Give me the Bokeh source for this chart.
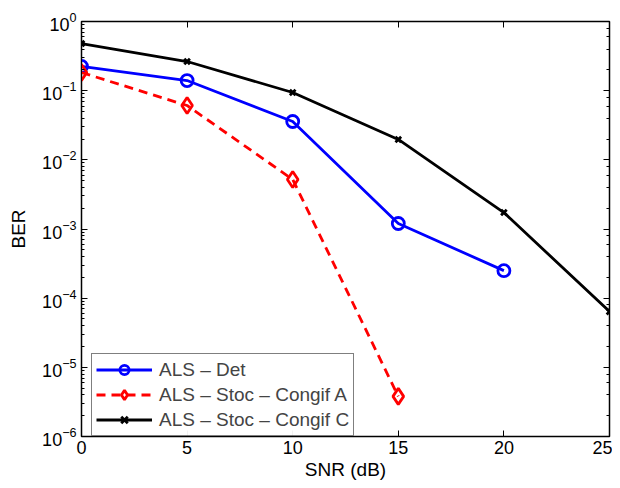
from bokeh.plotting import figure
from bokeh.models import LogAxis, LinearAxis, Legend, LegendItem, FixedTicker, Range1d, CustomJSTickFormatter
from bokeh.embed import file_html
from bokeh.resources import INLINE

snr_det = [0, 5, 10, 15, 20]
ber_det = [0.224, 0.14, 0.0358, 0.0012, 2.5e-4]
snr_a = [0, 5, 10, 15]
ber_a = [0.183, 0.061, 0.0052, 3.8e-6]
snr_c = [0, 5, 10, 15, 20, 25]
ber_c = [0.48, 0.264, 0.094, 0.0197, 0.00173, 6.4e-5]
x_ticks = [0, 5, 10, 15, 20, 25]

FONT = "Liberation Sans"
FS = "18px"
FL = "19px"

p = figure(frame_width=528, frame_height=415, y_axis_type="log",
           x_range=Range1d(0, 25), y_range=Range1d(1e-6, 1),
           output_backend="svg", toolbar_location=None,
           min_border_left=81, min_border_right=3, min_border_top=21, min_border_bottom=48)
p.xgrid.visible = False
p.ygrid.visible = False
p.outline_line_color = "black"
p.outline_line_width = 1.5
p.background_fill_color = "white"
p.border_fill_color = "white"

def style(ax):
    ax.axis_line_color = "black"
    ax.major_tick_in = 6
    ax.major_tick_out = 0
    ax.minor_tick_in = 3
    ax.minor_tick_out = 0
    ax.major_tick_line_color = "black"
    ax.minor_tick_line_color = "black"
    ax.major_label_text_font = FONT
    ax.major_label_text_font_size = FS
    ax.major_label_text_color = "black"
    ax.axis_label_text_font = FONT
    ax.axis_label_text_font_size = FL
    ax.axis_label_text_font_style = "normal"
    ax.axis_label_text_color = "black"

p.xaxis.ticker = FixedTicker(ticks=x_ticks)
p.xaxis.axis_label = "SNR (dB)"
p.yaxis.axis_label = "BER"
style(p.xaxis[0])
style(p.yaxis[0])
p.xaxis.minor_tick_line_color = None
p.xaxis.major_label_standoff = 4
p.xaxis.axis_label_standoff = 2
p.yaxis.major_label_standoff = 5
p.yaxis.axis_label_standoff = 10

ra = LogAxis(formatter=CustomJSTickFormatter(code="return '';"))
style(ra)
ra.major_label_standoff = 0
p.add_layout(ra, "right")
ta = LinearAxis(ticker=FixedTicker(ticks=x_ticks), formatter=CustomJSTickFormatter(code="return '';"))
style(ta)
ta.minor_tick_line_color = None
ta.major_label_standoff = 0
p.add_layout(ta, "above")

LW = 2.8
l1 = p.line(snr_det, ber_det, line_color="blue", line_width=LW)
s1 = p.scatter(snr_det, ber_det, marker="circle", size=12, line_color="blue",
               fill_color=None, line_width=LW)
l2 = p.line(snr_a, ber_a, line_color="red", line_width=LW, line_dash="9 6")
s2 = p.scatter(snr_a, ber_a, marker="diamond", size=16, line_color="red",
               fill_color=None, line_width=LW)
l3 = p.line(snr_c, ber_c, line_color="black", line_width=LW)
s3 = p.scatter(snr_c, ber_c, marker="x", size=8, line_color="black", line_width=LW)

legend = Legend(items=[
    LegendItem(label="ALS \u2013 Det", renderers=[l1, s1]),
    LegendItem(label="ALS \u2013 Stoc \u2013 Congif A", renderers=[l2, s2]),
    LegendItem(label="ALS \u2013 Stoc \u2013 Congif C", renderers=[l3, s3]),
], location=(10, 0))
legend.label_text_font = FONT
legend.label_text_font_size = FL
legend.border_line_color = "black"
legend.border_line_width = 1.5
legend.glyph_width = 56
legend.glyph_height = 23
legend.spacing = 2
legend.padding = 4
legend.margin = 0
legend.label_standoff = 7
legend.label_height = 23
p.add_layout(legend, "center")

open("out.html", "w").write(file_html(p, INLINE))
